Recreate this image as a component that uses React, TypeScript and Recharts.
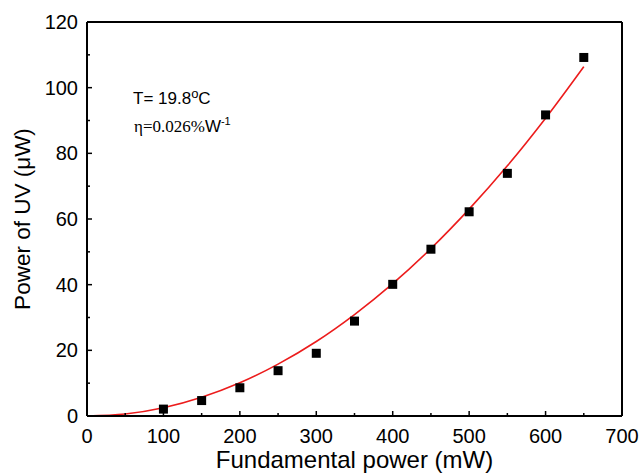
import React from "react";
import {
    ComposedChart,
    XAxis,
    YAxis,
    Scatter,
    Line,
    ReferenceLine,
    Customized,
    Label,
} from "recharts";

// measured points
const powerMw = [100, 150, 200, 250, 300, 350, 400, 450, 500, 550, 600, 650];
const uvPower = [2.1, 4.7, 8.6, 13.8, 19.1, 28.9, 40.1, 50.8, 62.2, 73.9, 91.7, 109.2];

// red fit curve
const fitMw = [0, 50, 100, 150, 200, 250, 300, 350, 400, 450, 500, 550, 600, 650];
const fitUv = [0, 0.6, 2.5, 5.7, 10.1, 15.8, 22.7, 30.9, 40.3, 51.0, 63.0, 76.2, 90.7, 106.4];

const xTicks = [0, 50, 100, 150, 200, 250, 300, 350, 400, 450, 500, 550, 600, 650, 700];
const yTicks = [0, 10, 20, 30, 40, 50, 60, 70, 80, 90, 100, 110, 120];

const sans = "'Liberation Sans', Arial, sans-serif";
const serif = "'Liberation Serif', 'Times New Roman', serif";

const points = powerMw.map((x, i) => ({ x, y: uvPower[i] }));
const fit = fitMw.map((x, i) => ({ x, y: fitUv[i] }));

function XTick(props: any) {
    const { x, y, payload } = props;
    const major = payload.value % 100 === 0;
    return (
        <g>
            {payload.value !== 0 && payload.value !== 700 && (
                <line x1={x} x2={x} y1={y} y2={y - (major ? 5 : 3)} stroke="#000" strokeWidth={1.5} />
            )}
            {major && (
                <text x={x} y={y + 27} textAnchor="middle" style={{ fontSize: 20, fontFamily: sans }} fill="#000">
                    {payload.value}
                </text>
            )}
        </g>
    );
}

function YTick(props: any) {
    const { x, y, payload } = props;
    const major = payload.value % 20 === 0;
    return (
        <g>
            {payload.value !== 0 && payload.value !== 120 && (
                <line x1={x} x2={x + (major ? 5 : 3)} y1={y} y2={y} stroke="#000" strokeWidth={1.5} />
            )}
            {major && (
                <text x={x - 9} y={y + 7} textAnchor="end" style={{ fontSize: 20, fontFamily: sans }} fill="#000">
                    {payload.value}
                </text>
            )}
        </g>
    );
}

function Notes() {
    return (
        <g fill="#000">
            <text x={133} y={104} style={{ fontSize: 17, fontFamily: sans }}>
                T= 19.8
                <tspan dy={-6} style={{ fontSize: 13 }}>o</tspan>
                <tspan dy={6} style={{ fontSize: 17 }}>C</tspan>
            </text>
            <text x={134} y={132} style={{ fontSize: 17, fontFamily: serif }}>
                η=0.026%
                <tspan style={{ fontFamily: sans }}>W</tspan>
                <tspan dy={-7} style={{ fontSize: 11, fontFamily: sans }}>-1</tspan>
            </text>
        </g>
    );
}

function Square(props: any) {
    const { cx, cy } = props;
    return <rect x={cx - 4.5} y={cy - 4.5} width={9} height={9} fill="#000" />;
}

export default function App() {
    return (
        <div style={{ position: "absolute", left: 0, top: 0, background: "#fff" }}>
            <ComposedChart
                width={640}
                height={473}
                margin={{ top: 22, right: 18, bottom: 0, left: 0 }}
            >
                <XAxis
                    dataKey="x"
                    type="number"
                    domain={[0, 700]}
                    ticks={xTicks}
                    interval={0}
                    height={57}
                    tickSize={0}
                    tickMargin={0}
                    tickLine={false}
                    tick={<XTick />}
                    axisLine={{ stroke: "#000", strokeWidth: 2 }}
                >
                    <Label
                        value="Fundamental power (mW)"
                        position="insideBottom"
                        offset={5}
                        style={{ fontSize: 24, fontFamily: sans, fill: "#000" }}
                    />
                </XAxis>
                <YAxis
                    dataKey="y"
                    type="number"
                    domain={[0, 120]}
                    ticks={yTicks}
                    interval={0}
                    width={87}
                    tickSize={0}
                    tickMargin={0}
                    tickLine={false}
                    tick={<YTick />}
                    axisLine={{ stroke: "#000", strokeWidth: 2 }}
                >
                    <Label
                        value="Power of UV (μW)"
                        angle={-90}
                        position="insideLeft"
                        offset={22}
                        style={{ fontSize: 22.5, fontFamily: sans, fill: "#000", textAnchor: "middle" }}
                    />
                </YAxis>
                <ReferenceLine y={120} stroke="#000" strokeWidth={2} />
                <ReferenceLine x={700} stroke="#000" strokeWidth={2} />
                <Line
                    data={fit}
                    dataKey="y"
                    type="monotone"
                    stroke="#ec1c1c"
                    strokeWidth={1.6}
                    dot={false}
                    activeDot={false}
                    isAnimationActive={false}
                />
                <Scatter
                    data={points}
                    dataKey="y"
                    shape={<Square />}
                    isAnimationActive={false}
                />
                <Customized component={Notes} />
            </ComposedChart>
        </div>
    );
}
